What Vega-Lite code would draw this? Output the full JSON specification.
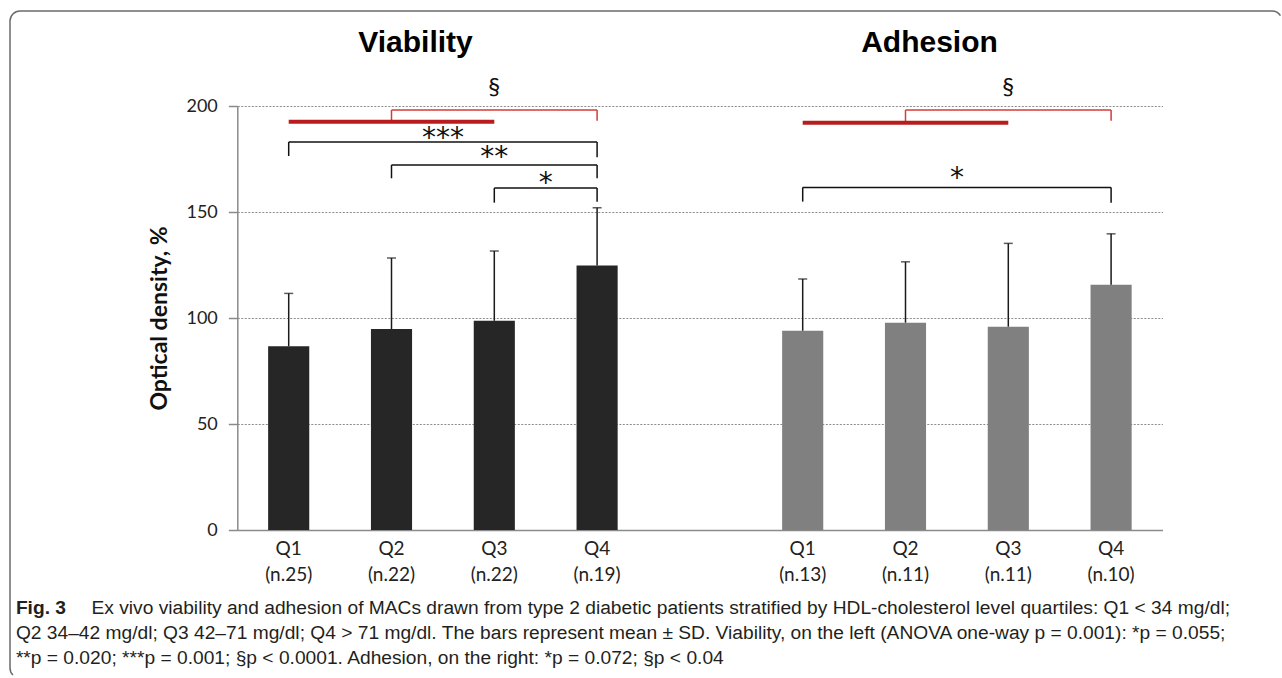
{
  "$schema": "https://vega.github.io/schema/vega-lite/v6.json",
  "usermeta": {"embedOptions": {"actions": false}},
  "autosize": {"type": "none"},
  "padding": {"left": 10, "top": 11, "right": 0, "bottom": 0},
  "width": 1272,
  "height": 667,
  "background": "white",
  "config": {
    "view": {"stroke": "#6b6b6b", "strokeWidth": 1.5, "cornerRadius": 10, "strokeDash": [1262, 1928, 675, 6000]},
    "text": {"font": "Lato", "color": "#111"}
  },
  "datasets": {
    "bars": [
      {"panel": "Viability", "quartile": "Q1", "n": 25, "slot": "Q1 (n.25)", "mean": 86.7, "upper": 111.6},
      {"panel": "Viability", "quartile": "Q2", "n": 22, "slot": "Q2 (n.22)", "mean": 94.8, "upper": 128.3},
      {"panel": "Viability", "quartile": "Q3", "n": 22, "slot": "Q3 (n.22)", "mean": 98.7, "upper": 131.6},
      {"panel": "Viability", "quartile": "Q4", "n": 19, "slot": "Q4 (n.19)", "mean": 124.8, "upper": 152.0},
      {"panel": "Adhesion", "quartile": "Q1", "n": 13, "slot": "Q1 (n.13)", "mean": 94.0, "upper": 118.4},
      {"panel": "Adhesion", "quartile": "Q2", "n": 11, "slot": "Q2 (n.11)", "mean": 97.8, "upper": 126.5},
      {"panel": "Adhesion", "quartile": "Q3", "n": 11, "slot": "Q3 (n.11)", "mean": 95.9, "upper": 135.2},
      {"panel": "Adhesion", "quartile": "Q4", "n": 10, "slot": "Q4 (n.10)", "mean": 115.7, "upper": 139.7}
    ],
    "brackets": [
      {"kind": "group", "from": "Q1 (n.25)", "to": "Q3 (n.22)", "y1": 192.6, "y2": 192.6},
      {"kind": "sect", "from": "Q2 (n.22)", "to": "Q4 (n.19)", "y1": 198.1, "y2": 198.1},
      {"kind": "sect", "from": "Q2 (n.22)", "to": "Q2 (n.22)", "y1": 198.1, "y2": 192.6},
      {"kind": "sect", "from": "Q4 (n.19)", "to": "Q4 (n.19)", "y1": 198.1, "y2": 193.0},
      {"kind": "star", "from": "Q1 (n.25)", "to": "Q4 (n.19)", "y1": 183.0, "y2": 183.0},
      {"kind": "star", "from": "Q1 (n.25)", "to": "Q1 (n.25)", "y1": 183.0, "y2": 176.4},
      {"kind": "star", "from": "Q4 (n.19)", "to": "Q4 (n.19)", "y1": 183.0, "y2": 175.8},
      {"kind": "star", "from": "Q2 (n.22)", "to": "Q4 (n.19)", "y1": 172.2, "y2": 172.2},
      {"kind": "star", "from": "Q2 (n.22)", "to": "Q2 (n.22)", "y1": 172.2, "y2": 165.9},
      {"kind": "star", "from": "Q4 (n.19)", "to": "Q4 (n.19)", "y1": 172.2, "y2": 165.9},
      {"kind": "star", "from": "Q3 (n.22)", "to": "Q4 (n.19)", "y1": 161.3, "y2": 161.3},
      {"kind": "star", "from": "Q3 (n.22)", "to": "Q3 (n.22)", "y1": 161.3, "y2": 154.4},
      {"kind": "star", "from": "Q4 (n.19)", "to": "Q4 (n.19)", "y1": 161.3, "y2": 154.8},
      {"kind": "group", "from": "Q1 (n.13)", "to": "Q3 (n.11)", "y1": 192.1, "y2": 192.1},
      {"kind": "sect", "from": "Q2 (n.11)", "to": "Q4 (n.10)", "y1": 198.1, "y2": 198.1},
      {"kind": "sect", "from": "Q2 (n.11)", "to": "Q2 (n.11)", "y1": 198.1, "y2": 192.1},
      {"kind": "sect", "from": "Q4 (n.10)", "to": "Q4 (n.10)", "y1": 198.1, "y2": 193.1},
      {"kind": "star", "from": "Q1 (n.13)", "to": "Q4 (n.10)", "y1": 161.6, "y2": 161.6},
      {"kind": "star", "from": "Q1 (n.13)", "to": "Q1 (n.13)", "y1": 161.6, "y2": 154.9},
      {"kind": "star", "from": "Q4 (n.10)", "to": "Q4 (n.10)", "y1": 161.6, "y2": 154.4}
    ],
    "marks": [
      {"label": "§", "slot": "Q3 (n.22)", "y": 205.3, "kind": "section"},
      {"label": "§", "slot": "Q3 (n.11)", "y": 205.3, "kind": "section"},
      {"label": "***", "slot": "Q2 (n.22)", "y": 180.5, "kind": "between"},
      {"label": "**", "slot": "Q3 (n.22)", "y": 171.9, "kind": "center"},
      {"label": "*", "slot": "Q3 (n.22)", "y": 159.6, "kind": "between"},
      {"label": "*", "slot": "Q2 (n.11)", "y": 161.6, "kind": "between"}
    ],
    "titles": [
      {"title": "Viability", "slot": "Q2 (n.22)"},
      {"title": "Adhesion", "slot": "Q2 (n.11)"}
    ]
  },
  "layer": [
    {
      "data": {"name": "bars"},
      "mark": {"type": "bar"},
      "encoding": {
        "x": {
          "field": "slot", "type": "nominal", "sort": null,
          "scale": {"domain": ["Q1 (n.25)", "Q2 (n.22)", "Q3 (n.22)", "Q4 (n.19)", "gap", "Q1 (n.13)", "Q2 (n.11)", "Q3 (n.11)", "Q4 (n.10)"], "range": [227.3, 1152.5], "paddingInner": 0.6, "paddingOuter": 0.3},
          "axis": {
            "title": null, "offset": -148, "ticks": false, "tickSize": 0, "labelAngle": 0, "labelPadding": 9,
            "labelExpr": "datum.label == 'gap' ? '' : split(datum.label, ' ')",
            "labelFont": "Lato", "labelFontSize": 19, "labelColor": "#222", "labelLineHeight": 26.5,
            "domainColor": "#8a8a8a", "domainWidth": 1.5, "grid": false
          }
        },
        "y": {
          "field": "mean", "type": "quantitative",
          "scale": {"domain": [0, 200], "range": [519, 95], "nice": false, "zero": false},
          "axis": {
            "title": "Optical density, %", "offset": -227.3, "values": [0, 50, 100, 150, 200],
            "tickSize": 9, "tickColor": "#8a8a8a", "tickWidth": 1.5, "domainColor": "#8a8a8a", "domainWidth": 1.5,
            "labelFont": "Lato", "labelFontSize": 18, "labelColor": "#222", "labelPadding": 11,
            "titleFont": "Lato", "titleFontSize": 23, "titleFontWeight": "bold", "titleColor": "#111", "titlePadding": 14,
            "grid": true, "gridColor": "#8c8c8c", "gridDash": [2, 1.5], "gridWidth": 1
          }
        },
        "color": {"field": "panel", "type": "nominal", "scale": {"domain": ["Viability", "Adhesion"], "range": ["#262626", "#808080"]}, "legend": null}
      }
    },
    {
      "data": {"name": "bars"},
      "mark": {"type": "rule", "color": "#1a1a1a", "strokeWidth": 1.5},
      "encoding": {
        "x": {"field": "slot", "type": "nominal", "sort": null, "scale": {"domain": ["Q1 (n.25)", "Q2 (n.22)", "Q3 (n.22)", "Q4 (n.19)", "gap", "Q1 (n.13)", "Q2 (n.11)", "Q3 (n.11)", "Q4 (n.10)"], "range": [227.3, 1152.5], "paddingInner": 0.6, "paddingOuter": 0.3}},
        "y": {"field": "mean", "type": "quantitative", "scale": {"domain": [0, 200], "range": [519, 95], "nice": false, "zero": false}},
        "y2": {"field": "upper"}
      }
    },
    {
      "data": {"name": "bars"},
      "mark": {"type": "tick", "color": "#1a1a1a", "thickness": 1.5, "size": 9},
      "encoding": {
        "x": {"field": "slot", "type": "nominal", "sort": null, "scale": {"domain": ["Q1 (n.25)", "Q2 (n.22)", "Q3 (n.22)", "Q4 (n.19)", "gap", "Q1 (n.13)", "Q2 (n.11)", "Q3 (n.11)", "Q4 (n.10)"], "range": [227.3, 1152.5], "paddingInner": 0.6, "paddingOuter": 0.3}},
        "y": {"field": "upper", "type": "quantitative", "scale": {"domain": [0, 200], "range": [519, 95], "nice": false, "zero": false}}
      }
    },
    {
      "data": {"name": "brackets"},
      "transform": [{"filter": "datum.kind == 'star'"}],
      "mark": {"type": "rule", "color": "#111", "strokeWidth": 1.5},
      "encoding": {
        "x": {"field": "from", "type": "nominal", "sort": null, "scale": {"domain": ["Q1 (n.25)", "Q2 (n.22)", "Q3 (n.22)", "Q4 (n.19)", "gap", "Q1 (n.13)", "Q2 (n.11)", "Q3 (n.11)", "Q4 (n.10)"], "range": [227.3, 1152.5], "paddingInner": 0.6, "paddingOuter": 0.3}},
        "x2": {"field": "to"},
        "y": {"field": "y1", "type": "quantitative", "scale": {"domain": [0, 200], "range": [519, 95], "nice": false, "zero": false}},
        "y2": {"field": "y2"}
      }
    },
    {
      "data": {"name": "brackets"},
      "transform": [{"filter": "datum.kind == 'sect'"}],
      "mark": {"type": "rule", "color": "#d43a3a", "strokeWidth": 1.5},
      "encoding": {
        "x": {"field": "from", "type": "nominal", "sort": null, "scale": {"domain": ["Q1 (n.25)", "Q2 (n.22)", "Q3 (n.22)", "Q4 (n.19)", "gap", "Q1 (n.13)", "Q2 (n.11)", "Q3 (n.11)", "Q4 (n.10)"], "range": [227.3, 1152.5], "paddingInner": 0.6, "paddingOuter": 0.3}},
        "x2": {"field": "to"},
        "y": {"field": "y1", "type": "quantitative", "scale": {"domain": [0, 200], "range": [519, 95], "nice": false, "zero": false}},
        "y2": {"field": "y2"}
      }
    },
    {
      "data": {"name": "brackets"},
      "transform": [{"filter": "datum.kind == 'group'"}],
      "mark": {"type": "rule", "color": "#b81c1c", "strokeWidth": 4},
      "encoding": {
        "x": {"field": "from", "type": "nominal", "sort": null, "scale": {"domain": ["Q1 (n.25)", "Q2 (n.22)", "Q3 (n.22)", "Q4 (n.19)", "gap", "Q1 (n.13)", "Q2 (n.11)", "Q3 (n.11)", "Q4 (n.10)"], "range": [227.3, 1152.5], "paddingInner": 0.6, "paddingOuter": 0.3}},
        "x2": {"field": "to"},
        "y": {"field": "y1", "type": "quantitative", "scale": {"domain": [0, 200], "range": [519, 95], "nice": false, "zero": false}},
        "y2": {"field": "y2"}
      }
    },
    {
      "data": {"name": "marks"},
      "transform": [{"filter": "datum.kind == 'section'"}],
      "mark": {"type": "text", "font": "Lato", "fontSize": 24, "align": "center", "baseline": "alphabetic", "color": "#111"},
      "encoding": {
        "x": {"field": "slot", "type": "nominal", "sort": null, "scale": {"domain": ["Q1 (n.25)", "Q2 (n.22)", "Q3 (n.22)", "Q4 (n.19)", "gap", "Q1 (n.13)", "Q2 (n.11)", "Q3 (n.11)", "Q4 (n.10)"], "range": [227.3, 1152.5], "paddingInner": 0.6, "paddingOuter": 0.3}},
        "y": {"field": "y", "type": "quantitative", "scale": {"domain": [0, 200], "range": [519, 95], "nice": false, "zero": false}},
        "text": {"field": "label"}
      }
    },
    {
      "data": {"name": "marks"},
      "transform": [{"filter": "datum.kind == 'center'"}],
      "mark": {"type": "text", "font": "DejaVu Sans", "fontSize": 28, "align": "center", "baseline": "alphabetic", "color": "#111"},
      "encoding": {
        "x": {"field": "slot", "type": "nominal", "sort": null, "scale": {"domain": ["Q1 (n.25)", "Q2 (n.22)", "Q3 (n.22)", "Q4 (n.19)", "gap", "Q1 (n.13)", "Q2 (n.11)", "Q3 (n.11)", "Q4 (n.10)"], "range": [227.3, 1152.5], "paddingInner": 0.6, "paddingOuter": 0.3}},
        "y": {"field": "y", "type": "quantitative", "scale": {"domain": [0, 200], "range": [519, 95], "nice": false, "zero": false}},
        "text": {"field": "label"}
      }
    },
    {
      "data": {"name": "marks"},
      "transform": [{"filter": "datum.kind == 'between'"}],
      "mark": {"type": "text", "font": "DejaVu Sans", "fontSize": 28, "align": "center", "baseline": "alphabetic", "color": "#111", "dx": 51.4},
      "encoding": {
        "x": {"field": "slot", "type": "nominal", "sort": null, "scale": {"domain": ["Q1 (n.25)", "Q2 (n.22)", "Q3 (n.22)", "Q4 (n.19)", "gap", "Q1 (n.13)", "Q2 (n.11)", "Q3 (n.11)", "Q4 (n.10)"], "range": [227.3, 1152.5], "paddingInner": 0.6, "paddingOuter": 0.3}},
        "y": {"field": "y", "type": "quantitative", "scale": {"domain": [0, 200], "range": [519, 95], "nice": false, "zero": false}},
        "text": {"field": "label"}
      }
    },
    {
      "data": {"name": "titles"},
      "mark": {"type": "text", "font": "Liberation Sans", "fontSize": 30, "fontWeight": "bold", "align": "center", "baseline": "alphabetic", "color": "#000", "dx": 24},
      "encoding": {
        "x": {"field": "slot", "type": "nominal", "sort": null, "scale": {"domain": ["Q1 (n.25)", "Q2 (n.22)", "Q3 (n.22)", "Q4 (n.19)", "gap", "Q1 (n.13)", "Q2 (n.11)", "Q3 (n.11)", "Q4 (n.10)"], "range": [227.3, 1152.5], "paddingInner": 0.6, "paddingOuter": 0.3}},
        "y": {"datum": 225.5, "type": "quantitative", "scale": {"domain": [0, 200], "range": [519, 95], "nice": false, "zero": false}},
        "text": {"field": "title"}
      }
    },
    {
      "data": {"values": [{"part": "figure"}]},
      "mark": {"type": "text", "font": "Liberation Sans", "fontSize": 19.2, "fontWeight": "bold", "align": "left", "baseline": "alphabetic", "color": "#231f20", "dx": -272.8, "text": "Fig. 3"},
      "encoding": {
        "x": {"datum": "Q1 (n.25)", "type": "nominal", "scale": {"domain": ["Q1 (n.25)", "Q2 (n.22)", "Q3 (n.22)", "Q4 (n.19)", "gap", "Q1 (n.13)", "Q2 (n.11)", "Q3 (n.11)", "Q4 (n.10)"], "range": [227.3, 1152.5], "paddingInner": 0.6, "paddingOuter": 0.3}},
        "y": {"datum": -39.4, "type": "quantitative", "scale": {"domain": [0, 200], "range": [519, 95], "nice": false, "zero": false}}
      }
    },
    {
      "data": {"values": [{"part": "line1"}]},
      "mark": {"type": "text", "font": "Liberation Sans", "fontSize": 19.2, "align": "left", "baseline": "alphabetic", "color": "#231f20", "dx": -197.2, "text": "Ex vivo viability and adhesion of MACs drawn from type 2 diabetic patients stratified by HDL-cholesterol level quartiles: Q1 < 34 mg/dl;"},
      "encoding": {
        "x": {"datum": "Q1 (n.25)", "type": "nominal", "scale": {"domain": ["Q1 (n.25)", "Q2 (n.22)", "Q3 (n.22)", "Q4 (n.19)", "gap", "Q1 (n.13)", "Q2 (n.11)", "Q3 (n.11)", "Q4 (n.10)"], "range": [227.3, 1152.5], "paddingInner": 0.6, "paddingOuter": 0.3}},
        "y": {"datum": -39.4, "type": "quantitative", "scale": {"domain": [0, 200], "range": [519, 95], "nice": false, "zero": false}}
      }
    },
    {
      "data": {"values": [{"part": "lines2and3"}]},
      "mark": {"type": "text", "font": "Liberation Sans", "fontSize": 19.2, "align": "left", "baseline": "alphabetic", "color": "#231f20", "dx": -272.8, "lineHeight": 25, "text": ["Q2 34–42 mg/dl; Q3 42–71 mg/dl; Q4 > 71 mg/dl. The bars represent mean ± SD. Viability, on the left (ANOVA one-way p = 0.001): *p = 0.055;", "**p = 0.020; ***p = 0.001; §p < 0.0001. Adhesion, on the right: *p = 0.072; §p < 0.04"]},
      "encoding": {
        "x": {"datum": "Q1 (n.25)", "type": "nominal", "scale": {"domain": ["Q1 (n.25)", "Q2 (n.22)", "Q3 (n.22)", "Q4 (n.19)", "gap", "Q1 (n.13)", "Q2 (n.11)", "Q3 (n.11)", "Q4 (n.10)"], "range": [227.3, 1152.5], "paddingInner": 0.6, "paddingOuter": 0.3}},
        "y": {"datum": -51.2, "type": "quantitative", "scale": {"domain": [0, 200], "range": [519, 95], "nice": false, "zero": false}}
      }
    }
  ]
}
